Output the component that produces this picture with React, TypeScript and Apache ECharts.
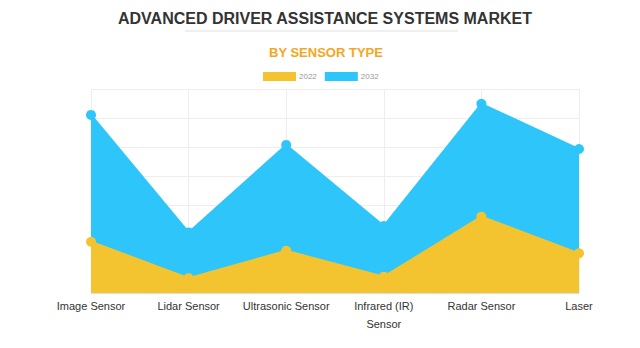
import React, { useEffect, useRef } from "react";
import * as echarts from "echarts";

const categories = ["Image Sensor", "Lidar Sensor", "Ultrasonic Sensor", "Infrared (IR)\nSensor", "Radar Sensor", "Laser"];
const values2022 = [1.76, 0.51, 1.45, 0.56, 2.62, 1.36];
const values2032 = [6.11, 2.08, 5.08, 2.3, 6.49, 4.94];
const seriesNames = ["2022", "2032"];

export default function App() {
  const ref = useRef<HTMLDivElement>(null);
  useEffect(() => {
    document.body.style.margin = "0";
    const chart = echarts.init(ref.current!, undefined, { renderer: "svg" });
    chart.setOption({
      animation: false,
      backgroundColor: "#ffffff",
      title: [
        {
          text: "ADVANCED DRIVER ASSISTANCE SYSTEMS MARKET",
          left: 113,
          top: 5,
          textStyle: { fontFamily: "Liberation Sans, Arial", fontSize: 16, fontWeight: 900, color: "#333333" },
        },
        {
          text: "BY SENSOR TYPE",
          left: 264,
          top: 41,
          textStyle: { fontFamily: "Liberation Sans, Arial", fontSize: 13, fontWeight: "bold", color: "#F5A623" },
        },
      ],
      graphic: [
        { type: "line", shape: { x1: 185, y1: 31, x2: 458, y2: 31 }, style: { stroke: "#e0e0e0", lineWidth: 1 } },
      ],
      legend: {
        top: 67,
        left: 258,
        itemWidth: 33,
        itemHeight: 9,
        itemGap: 8,
        icon: "rect",
        textStyle: { fontSize: 8, color: "#999999", fontFamily: "Liberation Sans, Arial", padding: [0, 0, 0, -2] },
        data: seriesNames,
      },
      grid: { left: 91, right: 61, top: 89, bottom: 55 },
      xAxis: {
        type: "category",
        boundaryGap: false,
        data: categories,
        axisLine: { lineStyle: { color: "#dddddd" } },
        axisTick: { show: false },
        axisLabel: { color: "#333333", fontSize: 11, fontFamily: "Liberation Sans, Arial", margin: 4, lineHeight: 18, interval: 0 },
        splitLine: { show: true, lineStyle: { color: "#eeeeee" } },
      },
      yAxis: {
        type: "value",
        min: 0,
        max: 7,
        interval: 1,
        axisLabel: { show: false },
        axisLine: { show: false },
        axisTick: { show: false },
        splitLine: { lineStyle: { color: "#eeeeee" } },
      },
      series: [
        {
          name: "2032",
          type: "line",
          data: values2032,
          z: 2,
          symbol: "circle",
          symbolSize: 10,
          itemStyle: { color: "#2EC5FA" },
          lineStyle: { color: "#2EC5FA", width: 2 },
          areaStyle: { color: "#2EC5FA", opacity: 1 },
        },
        {
          name: "2022",
          type: "line",
          data: values2022,
          z: 3,
          symbol: "circle",
          symbolSize: 10,
          itemStyle: { color: "#F4C430" },
          lineStyle: { color: "#F4C430", width: 2 },
          areaStyle: { color: "#F4C430", opacity: 1 },
        },
      ],
    });
    return () => chart.dispose();
  }, []);
  return <div ref={ref} style={{ width: 640, height: 348 }} />;
}
